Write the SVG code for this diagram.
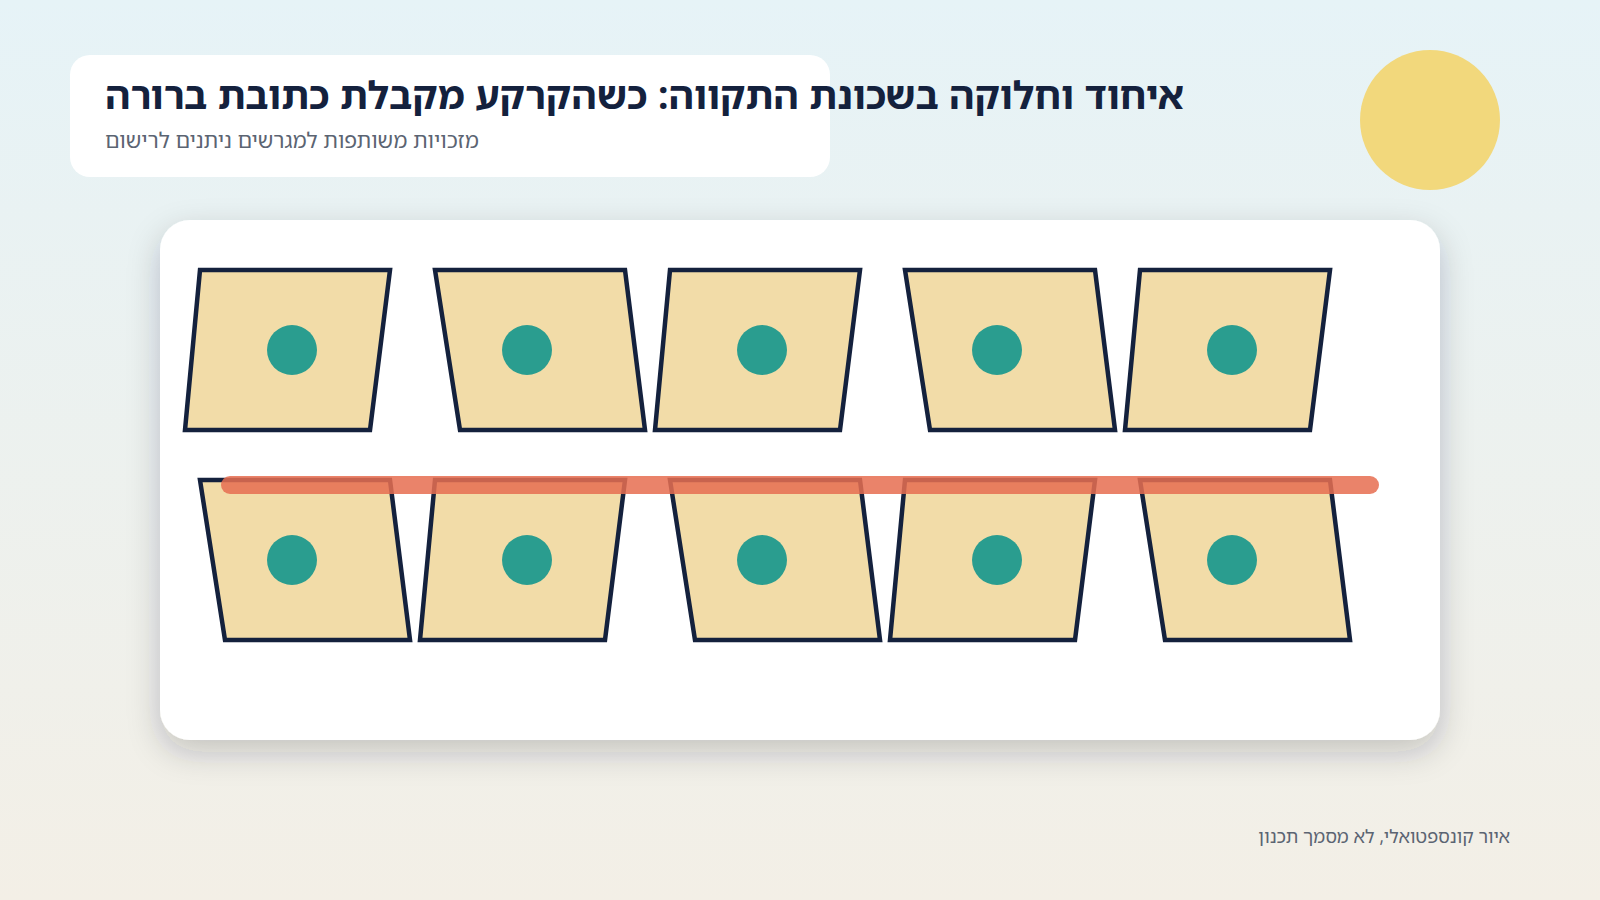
<svg xmlns="http://www.w3.org/2000/svg" width="1600" height="900" viewBox="0 0 1600 900">
  <defs>
    <linearGradient id="bg" x1="0" y1="0" x2="0" y2="1">
      <stop offset="0" stop-color="#e6f3f7"/>
      <stop offset="1" stop-color="#f3efe6"/>
    </linearGradient>
    <filter id="shadow" x="-10%" y="-10%" width="120%" height="130%">
      <feDropShadow dx="0" dy="12" stdDeviation="16" flood-color="#1b2030" flood-opacity="0.22"/>
    </filter>
    <style>
      .plot { fill: #f2dca8; stroke: #14213d; stroke-width: 4.5; stroke-linejoin: miter; }
      .dot { fill: #2a9d8f; }
      .title { font-family: "Noto Sans Hebrew", "Noto Sans", sans-serif; font-weight: bold; font-size: 38.7px; fill: #14213d; }
      .sub { font-family: "Noto Sans Hebrew", "Noto Sans", sans-serif; font-size: 21.3px; fill: #5b6472; }
      .foot { font-family: "Noto Sans Hebrew", "Noto Sans", sans-serif; font-size: 18.3px; fill: #5b6472; }
    </style>
  </defs>
  <rect x="0" y="0" width="1600" height="900" fill="url(#bg)"/>
  <circle cx="1430" cy="120" r="70" fill="#f2d87c"/>
  <g id="header">
    <rect x="70" y="55" width="760" height="122" rx="20" fill="#ffffff"/>
    <text class="title" x="105" y="108.5">איחוד וחלוקה בשכונת התקווה: כשהקרקע מקבלת כתובת ברורה</text>
    <text class="sub" x="105" y="148">מזכויות משותפות למגרשים ניתנים לרישום</text>
  </g>
  <g id="board">
    <rect x="160" y="220" width="1280" height="520" rx="30" fill="#ffffff" filter="url(#shadow)"/>
  </g>
  <g id="plot-r1-1"><polygon class="plot" points="200,270 390,270 370,430 185,430"/><circle class="dot" cx="292" cy="350" r="25"/></g>
  <g id="plot-r1-2"><polygon class="plot" points="435,270 625,270 645,430 460,430"/><circle class="dot" cx="527" cy="350" r="25"/></g>
  <g id="plot-r1-3"><polygon class="plot" points="670,270 860,270 840,430 655,430"/><circle class="dot" cx="762" cy="350" r="25"/></g>
  <g id="plot-r1-4"><polygon class="plot" points="905,270 1095,270 1115,430 930,430"/><circle class="dot" cx="997" cy="350" r="25"/></g>
  <g id="plot-r1-5"><polygon class="plot" points="1140,270 1330,270 1310,430 1125,430"/><circle class="dot" cx="1232" cy="350" r="25"/></g>
  <g id="plot-r2-1"><polygon class="plot" points="200,480 390,480 410,640 225,640"/><circle class="dot" cx="292" cy="560" r="25"/></g>
  <g id="plot-r2-2"><polygon class="plot" points="435,480 625,480 605,640 420,640"/><circle class="dot" cx="527" cy="560" r="25"/></g>
  <g id="plot-r2-3"><polygon class="plot" points="670,480 860,480 880,640 695,640"/><circle class="dot" cx="762" cy="560" r="25"/></g>
  <g id="plot-r2-4"><polygon class="plot" points="905,480 1095,480 1075,640 890,640"/><circle class="dot" cx="997" cy="560" r="25"/></g>
  <g id="plot-r2-5"><polygon class="plot" points="1140,480 1330,480 1350,640 1165,640"/><circle class="dot" cx="1232" cy="560" r="25"/></g>
  <g id="connectors">
    <line x1="230" y1="485" x2="1370" y2="485" stroke="#e76f51" stroke-width="18" stroke-linecap="round" stroke-opacity="0.86"/>
  </g>
  <text class="foot" x="1510" y="843" text-anchor="end">איור קונספטואלי, לא מסמך תכנון</text>
</svg>
